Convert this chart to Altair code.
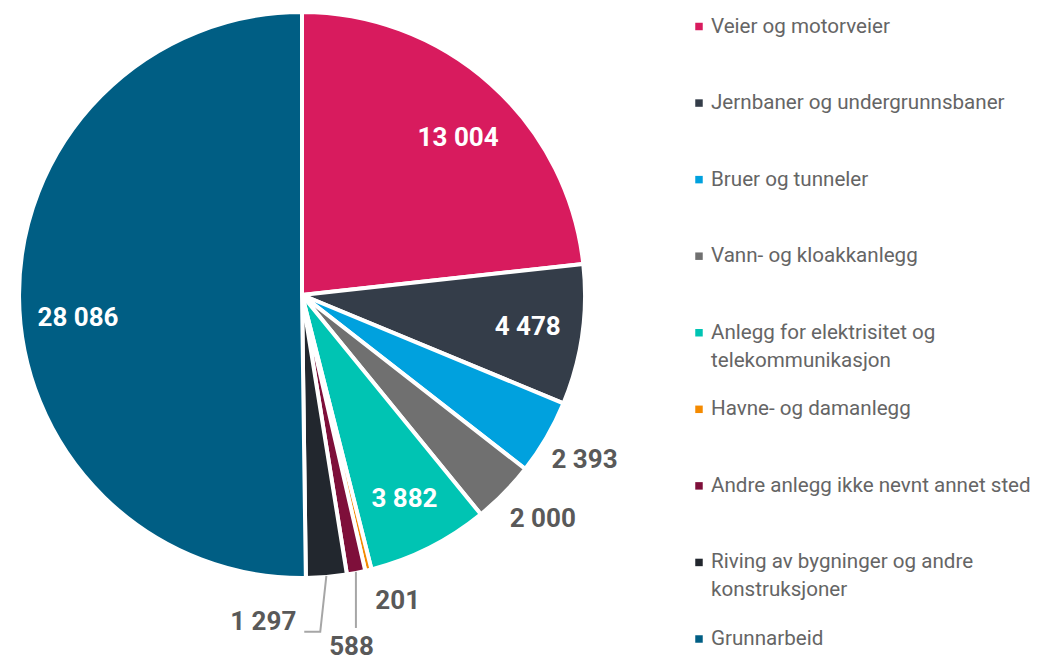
import math
import altair as alt
import pandas as pd

# ---- data ----
categories = [
    "Veier og motorveier",
    "Jernbaner og undergrunnsbaner",
    "Bruer og tunneler",
    "Vann- og kloakkanlegg",
    "Anlegg for elektrisitet og telekommunikasjon",
    "Havne- og damanlegg",
    "Andre anlegg ikke nevnt annet sted",
    "Riving av bygninger og andre konstruksjoner",
    "Grunnarbeid",
]
legend_labels = [
    "Veier og motorveier",
    "Jernbaner og undergrunnsbaner",
    "Bruer og tunneler",
    "Vann- og kloakkanlegg",
    "Anlegg for elektrisitet og\ntelekommunikasjon",
    "Havne- og damanlegg",
    "Andre anlegg ikke nevnt annet sted",
    "Riving av bygninger og andre\nkonstruksjoner",
    "Grunnarbeid",
]
values = [13004, 4478, 2393, 2000, 3882, 201, 588, 1297, 28086]
colors = ["#D81B5E", "#343D49", "#00A1DE", "#707070", "#00C4B3",
          "#F48A00", "#7E0F3A", "#22272E", "#005E84"]

# ---- layout / style ----
PIE_W, PIE_H = 630, 654
CX, CY = 294, 289
R = 283
R_IN, R_OUT = 228, 327
# label nudges in pixels (dx right, dy down)
nudges = {0: (4, 13), 3: (7, -5), 5: (19, -12), 6: (-13, 31), 7: (-67, 1), 8: (4, 21)}

total = sum(values)
fmt = lambda v: f"{v:,}".replace(",", " ")

df = pd.DataFrame({"cat": categories, "value": values, "idx": range(len(values)),
                   "legend": legend_labels})

rows, lines = [], []
cum = 0
for i, v in enumerate(values):
    a = (cum + v / 2) / total * 2 * math.pi
    cum += v
    inside = v / total > 0.05
    r = R_IN if inside else R_OUT
    x = r * math.sin(a)
    y = r * math.cos(a)
    dx, dy = nudges.get(i, (0, 0))
    x += dx
    y -= dy
    rows.append({"label": fmt(v), "x": x, "y": y, "inside": inside})
    ex, ey = (R - 1) * math.sin(a), (R - 1) * math.cos(a)
    if i == 6:
        lines += [{"g": i, "o": 0, "x": ex, "y": ey}, {"g": i, "o": 1, "x": ex, "y": y + 19}]
    if i == 7:
        lines += [{"g": i, "o": 0, "x": ex, "y": ey},
                  {"g": i, "o": 1, "x": x + 57, "y": y - 10},
                  {"g": i, "o": 2, "x": x + 41, "y": y - 10}]
lab = pd.DataFrame(rows)
ldf = pd.DataFrame(lines)

color_scale = alt.Scale(domain=categories, range=colors)
xs = alt.Scale(domain=[-CX, PIE_W - CX], nice=False, zero=False)
ys = alt.Scale(domain=[-(PIE_H - CY), CY], nice=False, zero=False)

pie = alt.Chart(df).mark_arc(outerRadius=R, stroke="white", strokeWidth=4).encode(
    theta=alt.Theta("value:Q", stack=True),
    color=alt.Color("cat:N", scale=color_scale, legend=None),
    order=alt.Order("idx:Q", sort="ascending"),
    x=alt.value(CX), y=alt.value(CY),
)

leader = alt.Chart(ldf).mark_line(color="#A6A6A6", strokeWidth=2).encode(
    x=alt.X("x:Q", scale=xs, axis=None),
    y=alt.Y("y:Q", scale=ys, axis=None),
    detail="g:N",
    order="o:Q",
)

txt_in = alt.Chart(lab[lab.inside]).mark_text(
    font="Roboto", fontWeight="bold", fontSize=26, color="white",
    align="center", baseline="middle").encode(
    x=alt.X("x:Q", scale=xs, axis=None),
    y=alt.Y("y:Q", scale=ys, axis=None),
    text="label:N",
)
txt_out = alt.Chart(lab[~lab.inside]).mark_text(
    font="Roboto", fontWeight="bold", fontSize=26, color="#595959",
    align="center", baseline="middle").encode(
    x=alt.X("x:Q", scale=xs, axis=None),
    y=alt.Y("y:Q", scale=ys, axis=None),
    text="label:N",
)

pie_chart = alt.layer(pie, leader, txt_in, txt_out).properties(width=PIE_W, height=PIE_H)

ly = alt.Y("idx:Q", scale=alt.Scale(domain=[0, 8], range=[20.5, 633]), axis=None)
leg_sq = alt.Chart(df).mark_square(size=56, opacity=1).encode(
    x=alt.value(9), y=ly,
    color=alt.Color("cat:N", scale=color_scale, legend=None),
)
leg_tx = alt.Chart(df).mark_text(
    font="Roboto", fontSize=20.6, color="#656565", align="left", baseline="middle",
    lineBreak="\n", lineHeight=28).encode(
    x=alt.value(21), y=ly, text="legend:N",
)
legend_chart = alt.layer(leg_sq, leg_tx).properties(width=345, height=PIE_H)

chart = alt.hconcat(pie_chart, legend_chart, spacing=52).configure_view(
    stroke=None
).properties(padding={"left": 0, "top": -4, "right": 0, "bottom": 0})

chart.save("out.html", embed_options={"renderer": "svg", "actions": False})
